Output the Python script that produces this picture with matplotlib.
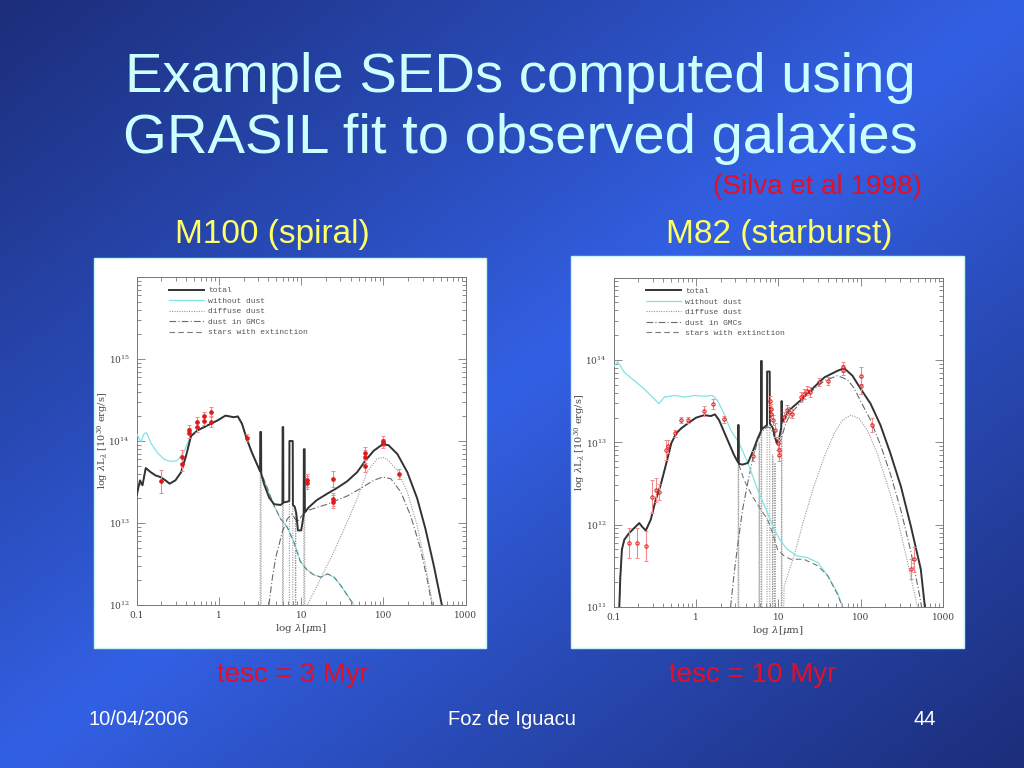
import numpy as np
import matplotlib
matplotlib.use('Agg')
import matplotlib.pyplot as plt
from matplotlib.patches import Rectangle
from matplotlib.lines import Line2D
from matplotlib.ticker import FixedLocator, FixedFormatter, LogLocator, NullFormatter

plt.rcParams['font.family'] = 'DejaVu Serif'
plt.rcParams['mathtext.fontset'] = 'dejavuserif'

# all curves: log10(lambda / micron), log10(lambda L_lambda / 1e30 erg/s)

# ---------------- M100 (spiral), tesc = 3 Myr ----------------
m100_total_x = [-1.00, -0.96, -0.93, -0.89, -0.83, -0.77, -0.71, -0.65, -0.60, -0.53, -0.46,
                -0.40, -0.34, -0.26, -0.14, -0.02, 0.08, 0.18, 0.23, 0.28, 0.34, 0.40, 0.47,
                0.500, 0.502, 0.512, 0.514, 0.55, 0.61, 0.67, 0.75, 0.772, 0.774, 0.781, 0.783,
                0.83, 0.855, 0.857, 0.897, 0.899, 0.92, 0.94, 0.96, 1.00, 1.030, 1.032, 1.042,
                1.044, 1.09, 1.19, 1.32, 1.44, 1.56, 1.68, 1.78, 1.88, 1.99, 2.06, 2.17, 2.29,
                2.41, 2.51, 2.61, 2.71, 2.80]
m100_total_y = [13.34, 13.52, 13.46, 13.67, 13.62, 13.58, 13.56, 13.52, 13.48, 13.52, 13.62,
                13.82, 14.06, 14.13, 14.19, 14.25, 14.31, 14.29, 14.30, 14.21, 14.02, 13.86, 13.70,
                13.63, 14.11, 14.11, 13.60, 13.47, 13.31, 13.23, 13.22, 13.24, 14.17, 14.17, 13.25,
                13.26, 13.27, 14.00, 14.00, 13.22, 13.20, 13.12, 12.91, 12.91, 13.10, 13.90, 13.90,
                13.13, 13.19, 13.28, 13.36, 13.43, 13.51, 13.62, 13.76, 13.88, 13.96, 13.95, 13.84,
                13.62, 13.30, 12.93, 12.49, 12.00, 11.60]

m100_nodust_x = [-1.00, -0.95, -0.91, -0.88, -0.83, -0.75, -0.67, -0.59, -0.51, -0.43, -0.37,
                 -0.34, -0.26, -0.14, -0.02, 0.08, 0.18, 0.23, 0.28, 0.34, 0.40, 0.47, 0.51,
                 0.59, 0.67, 0.75, 0.83, 0.91, 0.99, 1.07, 1.15, 1.24, 1.32, 1.40, 1.48, 1.56,
                 1.64, 1.72]
m100_nodust_y = [14.09, 13.99, 14.09, 14.10, 13.98, 13.86, 13.78, 13.75, 13.76, 13.86, 14.00,
                 14.06, 14.13, 14.19, 14.25, 14.31, 14.29, 14.30, 14.21, 14.02, 13.86, 13.70, 13.62,
                 13.42, 13.21, 13.05, 12.95, 12.77, 12.53, 12.43, 12.37, 12.34, 12.38, 12.34, 12.24,
                 12.12, 12.00, 11.86]

m100_ext_x = [-1.00, -0.96, -0.93, -0.89, -0.83, -0.77, -0.71, -0.65, -0.60, -0.53, -0.46,
              -0.40, -0.34, -0.26, -0.14, -0.02, 0.08, 0.18, 0.23, 0.28, 0.34, 0.40, 0.47, 0.51,
              0.59, 0.67, 0.75, 0.83, 0.91, 0.99, 1.07, 1.15, 1.24, 1.32, 1.40, 1.48, 1.56,
              1.64, 1.72]
m100_ext_y = [13.34, 13.52, 13.46, 13.67, 13.62, 13.58, 13.56, 13.52, 13.48, 13.52, 13.62,
              13.82, 14.06, 14.13, 14.19, 14.25, 14.31, 14.29, 14.30, 14.21, 14.02, 13.86, 13.70,
              13.62, 13.42, 13.21, 13.05, 12.95, 12.77, 12.53, 12.43, 12.37, 12.34, 12.38, 12.34,
              12.24, 12.12, 12.00, 11.86]

m100_gmc_x = [0.607, 0.648, 0.688, 0.729, 0.77, 0.83, 0.89, 0.95, 1.01, 1.07, 1.19, 1.32, 1.44,
              1.56, 1.72, 1.88, 1.99, 2.09, 2.21, 2.33, 2.45, 2.53, 2.59, 2.63]
m100_gmc_y = [12.00, 12.32, 12.57, 12.73, 12.89, 13.05, 13.11, 13.01, 13.09, 13.15, 13.19, 13.23,
              13.28, 13.33, 13.42, 13.52, 13.56, 13.54, 13.38, 13.09, 12.69, 12.32, 12.00, 11.76]

m100_diffuse_x = [0.40, 0.500, 0.502, 0.512, 0.514, 0.772, 0.774, 0.781, 0.783, 0.855, 0.857,
                  0.897, 0.899, 0.928, 0.930, 0.934, 0.936, 1.030, 1.032, 1.042, 1.044, 1.05,
                  1.073, 1.235, 1.397, 1.559, 1.68, 1.80, 1.92, 1.99, 2.04, 2.17, 2.29, 2.41,
                  2.51, 2.57, 2.61]
m100_diffuse_y = [10.0, 10.0, 14.11, 14.11, 10.0, 10.0, 14.17, 14.17, 10.0, 10.0, 14.00,
                  14.00, 10.0, 10.0, 13.18, 13.18, 10.0, 10.0, 13.90, 13.90, 10.0, 10.0,
                  12.00, 12.32, 12.65, 13.01, 13.30, 13.62, 13.78, 13.80, 13.78, 13.64, 13.38,
                  12.97, 12.49, 12.16, 11.92]

m100_obs_x = [-0.71, -0.445, -0.445, -0.364, -0.364, -0.263, -0.263, -0.182, -0.182, -0.10, -0.10,
              0.336, 1.065, 1.065, 1.389, 1.389, 1.389, 1.77, 1.77, 1.77, 2.00, 2.00, 2.19]
m100_obs_y = [13.51, 13.81, 13.72, 14.14, 14.10, 14.23, 14.17, 14.30, 14.24, 14.36, 14.23,
              14.04, 13.52, 13.49, 13.54, 13.29, 13.26, 13.85, 13.81, 13.70, 14.00, 13.97, 13.60]
m100_obs_err = [0.14, 0.08, 0.08, 0.06, 0.06, 0.06, 0.06, 0.05, 0.05, 0.05, 0.06,
                0.04, 0.08, 0.08, 0.10, 0.08, 0.08, 0.08, 0.08, 0.08, 0.06, 0.06, 0.06]

# ---------------- M82 (starburst), tesc = 10 Myr ----------------
m82_total_x = [-0.935, -0.92, -0.90, -0.87, -0.81, -0.75, -0.69, -0.65, -0.61, -0.55, -0.49,
               -0.43, -0.36, -0.30, -0.24, -0.18, -0.10, 0.00, 0.10, 0.18, 0.23, 0.28, 0.34,
               0.40, 0.46, 0.510, 0.512, 0.518, 0.520, 0.565, 0.63, 0.69, 0.75, 0.790, 0.792,
               0.797, 0.799, 0.85, 0.862, 0.864, 0.895, 0.897, 0.93, 0.96, 0.98, 1.01, 1.035,
               1.037, 1.043, 1.045, 1.13, 1.27, 1.39, 1.56, 1.72, 1.80, 1.90, 2.00, 2.12, 2.24,
               2.36, 2.49, 2.61, 2.73, 2.78, 2.82]
m82_total_y = [10.90, 11.35, 11.70, 11.82, 11.90, 11.96, 12.02, 11.97, 11.93, 12.06, 12.30,
               12.48, 12.75, 12.99, 13.11, 13.17, 13.23, 13.30, 13.33, 13.32, 13.34, 13.27, 13.13,
               12.99, 12.85, 12.76, 13.21, 13.21, 12.74, 12.73, 12.75, 12.89, 13.05, 13.14, 13.99,
               13.99, 13.16, 13.20, 13.21, 13.86, 13.86, 13.23, 13.18, 13.07, 12.99, 13.05, 13.18,
               13.50, 13.50, 13.24, 13.39, 13.51, 13.63, 13.79, 13.87, 13.90, 13.81, 13.65, 13.47,
               13.21, 12.87, 12.46, 11.98, 11.46, 11.00, 10.80]

m82_nodust_x = [-1.00, -0.95, -0.87, -0.75, -0.63, -0.53, -0.45, -0.385, -0.26, -0.14, -0.02,
                0.10, 0.20, 0.26, 0.34, 0.42, 0.525, 0.63, 0.75, 0.87, 0.95, 1.03, 1.11, 1.23,
                1.35, 1.48, 1.60, 1.72, 1.78, 1.84]
m82_nodust_y = [13.92, 13.98, 13.85, 13.75, 13.65, 13.55, 13.47, 13.55, 13.57, 13.55, 13.57,
                13.56, 13.57, 13.51, 13.35, 13.15, 12.99, 12.75, 12.42, 12.14, 11.94, 11.80, 11.70,
                11.62, 11.60, 11.54, 11.38, 11.17, 11.00, 10.85]

m82_ext_x = [-0.935, -0.92, -0.90, -0.87, -0.81, -0.75, -0.69, -0.65, -0.61, -0.55, -0.49,
             -0.43, -0.36, -0.30, -0.24, -0.18, -0.10, 0.00, 0.10, 0.18, 0.23, 0.28, 0.34,
             0.40, 0.46, 0.52, 0.585, 0.687, 0.79, 0.87, 0.93, 0.99, 1.07, 1.15, 1.31, 1.48,
             1.60, 1.72, 1.78, 1.84]
m82_ext_y = [10.90, 11.35, 11.70, 11.82, 11.90, 11.96, 12.02, 11.97, 11.93, 12.06, 12.30,
             12.48, 12.75, 12.99, 13.11, 13.17, 13.23, 13.30, 13.33, 13.32, 13.34, 13.27, 13.13,
             12.99, 12.85, 12.73, 12.54, 12.34, 12.18, 12.06, 11.90, 11.70, 11.62, 11.58, 11.58,
             11.50, 11.38, 11.15, 11.00, 10.85]

m82_gmc_x = [0.42, 0.464, 0.505, 0.565, 0.626, 0.687, 0.747, 0.796, 0.869, 0.91, 0.958, 0.99,
             1.03, 1.09, 1.15, 1.39, 1.56, 1.72, 1.84, 1.92, 2.00, 2.12, 2.24, 2.36, 2.49, 2.61,
             2.71, 2.74, 2.77]
m82_gmc_y = [11.00, 11.42, 11.74, 12.18, 12.50, 12.79, 13.01, 13.13, 13.19, 13.17, 13.05, 12.97,
             13.03, 13.23, 13.35, 13.61, 13.75, 13.81, 13.76, 13.66, 13.50, 13.27, 12.97, 12.62,
             12.17, 11.67, 11.17, 11.00, 10.80]

m82_diffuse_x = [0.40, 0.510, 0.512, 0.518, 0.520, 0.764, 0.766, 0.770, 0.772, 0.790, 0.792,
                 0.797, 0.799, 0.862, 0.864, 0.895, 0.897, 0.928, 0.930, 0.934, 0.936, 0.955,
                 0.957, 0.961, 0.963, 1.037, 1.039, 1.043, 1.045, 1.05, 1.07, 1.19, 1.31, 1.43,
                 1.56, 1.68, 1.78, 1.88, 1.98, 2.08, 2.20, 2.32, 2.45, 2.57, 2.69, 2.73]
m82_diffuse_y = [10.0, 10.0, 13.21, 13.21, 10.0, 10.0, 13.00, 13.00, 10.0, 10.0, 13.99,
                 13.99, 10.0, 10.0, 13.86, 13.86, 10.0, 10.0, 12.85, 12.85, 10.0, 10.0,
                 12.75, 12.75, 10.0, 10.0, 13.50, 13.50, 10.0, 10.0, 11.25, 11.62, 12.06, 12.46,
                 12.83, 13.11, 13.27, 13.33, 13.29, 13.15, 12.87, 12.50, 12.06, 11.54, 11.00, 10.80]

m82_obs_x = [-0.81, -0.72, -0.61, -0.53, -0.49, -0.45, -0.37, -0.34, -0.26, -0.18, -0.10, 0.10,
             0.21, 0.34, 0.69, 0.90, 0.91, 0.91, 0.93, 0.96, 0.99, 1.01, 1.01, 1.07, 1.10, 1.13,
             1.17, 1.27, 1.31, 1.35, 1.39, 1.49, 1.60, 1.78, 1.78, 2.00, 2.00, 2.14, 2.61, 2.65]
m82_obs_y = [11.78, 11.78, 11.74, 12.34, 12.42, 12.40, 12.91, 12.95, 13.11, 13.27, 13.27, 13.38,
             13.47, 13.28, 12.83, 13.50, 13.40, 13.35, 13.27, 13.15, 12.99, 12.91, 12.85, 13.31,
             13.39, 13.37, 13.35, 13.55, 13.59, 13.63, 13.61, 13.73, 13.75, 13.92, 13.88, 13.81,
             13.69, 13.21, 11.46, 11.58]
m82_obs_err = [0.18, 0.18, 0.18, 0.20, 0.15, 0.10, 0.12, 0.08, 0.04, 0.04, 0.04, 0.06,
               0.06, 0.04, 0.06, 0.06, 0.06, 0.06, 0.06, 0.08, 0.08, 0.08, 0.08, 0.06, 0.06, 0.06,
               0.06, 0.06, 0.06, 0.06, 0.06, 0.05, 0.05, 0.06, 0.06, 0.10, 0.10, 0.08, 0.12, 0.15]

legend_labels = ['total', 'without dust', 'diffuse dust', 'dust in GMCs', 'stars with extinction']
x_ticks = [0.1, 1, 10, 100, 1000]
x_tick_labels = ['0.1', '1', '10', '100', '1000']


def draw_sed(ax, total, nodust, ext, gmc, diffuse, obs, ylog, open_markers):
    styles = {
        'total': dict(color='#333333', lw=1.4, ls='-'),
        'nodust': dict(color='#80e4e4', lw=0.9, ls='-'),
        'diffuse': dict(color='#9a9a9a', lw=0.8, ls=(0, (1, 1.2))),
        'gmc': dict(color='#6a6a6a', lw=0.8, ls=(0, (6, 2, 1, 2))),
        'ext': dict(color='#7a7a7a', lw=0.8, ls=(0, (5, 3))),
    }

    def p(curve, key, z):
        ax.plot(10 ** np.array(curve[0]), 10 ** np.array(curve[1]), zorder=z, **styles[key])

    p(diffuse, 'diffuse', 2)
    p(gmc, 'gmc', 3)
    p(nodust, 'nodust', 4)
    p(ext, 'ext', 5)
    p(total, 'total', 6)

    ox = 10 ** np.array(obs[0])
    oy = 10 ** np.array(obs[1])
    oe = np.array(obs[2])
    yerr = [oy - 10 ** (np.array(obs[1]) - oe), 10 ** (np.array(obs[1]) + oe) - oy]
    ax.errorbar(ox, oy, yerr=yerr, fmt='o', ms=2.6 if not open_markers else 2.4,
                mfc='none' if open_markers else '#e01818', mec='#e01818', mew=0.7,
                ecolor='#f08a8a', elinewidth=0.8, capsize=1.6, capthick=0.7, zorder=7)

    ax.set_xscale('log')
    ax.set_yscale('log')
    ax.set_xlim(0.1, 1000)
    ax.set_ylim(10.0 ** ylog[0], 10.0 ** ylog[-1])
    ax.xaxis.set_major_locator(FixedLocator(x_ticks))
    ax.xaxis.set_major_formatter(FixedFormatter(x_tick_labels))
    ax.xaxis.set_minor_locator(LogLocator(base=10, subs=np.arange(2, 10)))
    ax.xaxis.set_minor_formatter(NullFormatter())
    ax.yaxis.set_major_locator(FixedLocator([10.0 ** k for k in ylog]))
    ax.yaxis.set_major_formatter(FixedFormatter(['$10^{%d}$' % k for k in ylog[:-1]] + ['']))
    ax.yaxis.set_minor_locator(LogLocator(base=10, subs=np.arange(2, 10)))
    ax.yaxis.set_minor_formatter(NullFormatter())
    ax.tick_params(which='both', direction='in', top=True, right=True, color='#777777',
                   width=0.6, labelsize=6.5, labelcolor='#444444')
    ax.tick_params(axis='x', which='both', pad=4)
    ax.tick_params(axis='y', which='both', pad=5)
    ax.tick_params(which='major', length=6)
    ax.tick_params(which='minor', length=3)
    for s in ax.spines.values():
        s.set_color('#777777')
        s.set_linewidth(0.7)
    ax.set_xlabel(r'log $\lambda$[$\mu$m]', fontsize=7.5, color='#444444', labelpad=2)
    ax.set_ylabel(r'log $\lambda$L$_\lambda$ [10$^{30}$ erg/s]', fontsize=7, color='#444444',
                  labelpad=-1.5)

    handles = [Line2D([], [], **styles[k]) for k in ['total', 'nodust', 'diffuse', 'gmc', 'ext']]
    ax.legend(handles, legend_labels, loc='upper left', bbox_to_anchor=(0.098, 0.97),
              frameon=False, borderpad=0, borderaxespad=0, handlelength=4.3,
              handletextpad=0.6, labelspacing=0.35,
              prop={'family': 'Liberation Mono', 'size': 5.8}, labelcolor='#555555')


fig = plt.figure(figsize=(10.24, 7.68), dpi=100)

# slide background (diagonal blue gradient)
H, W = 768, 1024
yy, xx = np.mgrid[0:H, 0:W]
t = np.clip(np.abs(xx / W + yy / H - 1.0), 0, 1) ** 0.9
bright = np.array([0.20, 0.38, 0.90])
dark = np.array([0.11, 0.18, 0.48])
img = bright * (1 - t)[..., None] + dark * t[..., None]
bg = fig.add_axes([0, 0, 1, 1], zorder=-3)
bg.imshow(img, extent=[0, 1, 0, 1], aspect='auto', origin='upper')
bg.axis('off')

# white picture frames
for r in [(0.0918, 0.1563, 0.3828, 0.5078), (0.5576, 0.1563, 0.3838, 0.5104)]:
    fig.patches.append(Rectangle(r[:2], r[2], r[3], transform=fig.transFigure,
                                 facecolor='white', edgecolor='#c8f4f4', lw=1.0, zorder=-2))

ax_l = fig.add_axes([0.1335, 0.2122, 0.3213, 0.4271], zorder=1)
draw_sed(ax_l,
         (m100_total_x, m100_total_y), (m100_nodust_x, m100_nodust_y),
         (m100_ext_x, m100_ext_y), (m100_gmc_x, m100_gmc_y),
         (m100_diffuse_x, m100_diffuse_y),
         (m100_obs_x, m100_obs_y, m100_obs_err), [12, 13, 14, 15, 16], False)

ax_r = fig.add_axes([0.5993, 0.2096, 0.3216, 0.4288], zorder=1)
draw_sed(ax_r,
         (m82_total_x, m82_total_y), (m82_nodust_x, m82_nodust_y),
         (m82_ext_x, m82_ext_y), (m82_gmc_x, m82_gmc_y),
         (m82_diffuse_x, m82_diffuse_y),
         (m82_obs_x, m82_obs_y, m82_obs_err), [11, 12, 13, 14, 15], True)

sans = 'Liberation Sans'
fig.text(0.508, 1 - 92 / 768, 'Example SEDs computed using', ha='center', va='baseline',
         fontsize=40.5, color='#ccffff', family=sans)
fig.text(0.508, 1 - 153 / 768, 'GRASIL fit to observed galaxies', ha='center', va='baseline',
         fontsize=40.5, color='#ccffff', family=sans)
fig.text(922 / 1024, 1 - 194 / 768, '(Silva et al 1998)', ha='right', va='baseline',
         fontsize=20, color='#e0102a', family=sans)
fig.text(272 / 1024, 1 - 243 / 768, 'M100 (spiral)', ha='center', va='baseline',
         fontsize=24, color='#ffff66', family=sans)
fig.text(779 / 1024, 1 - 243 / 768, 'M82 (starburst)', ha='center', va='baseline',
         fontsize=24, color='#ffff66', family=sans)
fig.text(293 / 1024, 1 - 682 / 768, 'tesc = 3 Myr', ha='center', va='baseline',
         fontsize=20, color='#e0102a', family=sans)
fig.text(753 / 1024, 1 - 682 / 768, 'tesc = 10 Myr', ha='center', va='baseline',
         fontsize=20, color='#e0102a', family=sans)
fig.text(88 / 1024, 1 - 725 / 768, '10/04/2006', ha='left', va='baseline',
         fontsize=14.5, color='white', family=sans)
fig.text(512 / 1024, 1 - 725 / 768, 'Foz de Iguacu', ha='center', va='baseline',
         fontsize=14.5, color='white', family=sans)
fig.text(925 / 1024, 1 - 725 / 768, '44', ha='center', va='baseline',
         fontsize=14.5, color='white', family=sans)

fig.savefig('out.png', dpi=100)
